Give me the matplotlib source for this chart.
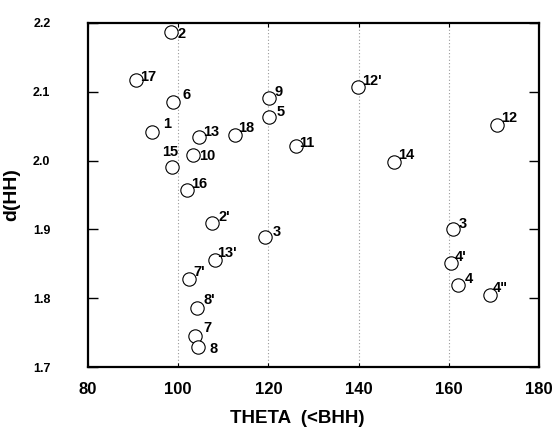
# d(HH) vs THETA scatter with numbered points

import matplotlib
matplotlib.use('Agg')
import matplotlib.pyplot as plt

plt.rcParams['font.family'] = ['Liberation Sans', 'DejaVu Sans']

# data
labels = ['2', '17', '6', '1', '13', '18', '9', '5', '11', '10', '15', '16',
          "12'", '14', '12', "2'", '3', "13'", "7'", "8'", '7', '8',
          '3', "4'", '4', '4"']
theta = [98.4, 90.6, 98.9, 94.2, 104.6, 112.6, 120.1, 120.1, 126.1, 103.3, 98.6, 102.0,
         139.9, 147.8, 170.7, 107.5, 119.2, 108.2, 102.4, 104.2, 103.7, 104.4,
         160.9, 160.5, 162.0, 169.1]
dhh = [2.187, 2.117, 2.085, 2.042, 2.034, 2.037, 2.091, 2.063, 2.021, 2.008, 1.991, 1.957,
       2.107, 1.998, 2.052, 1.909, 1.889, 1.855, 1.828, 1.786, 1.745, 1.729,
       1.901, 1.851, 1.819, 1.805]

# label offsets from the circle (pixels: right, down)
offsets = [(7, 2), (4, -3), (9, -7), (11, -8), (4, -5), (3, -7), (6, -6), (8, -5), (3, -3),
           (6, 1), (-10, -15), (4, -6), (4, -6), (4, -7), (4, -7), (6, -6), (8, -5), (2, -7),
           (4, -7), (6, -8), (8, -8), (11, 2), (6, -5), (4, -6), (7, -6), (3, -7)]

grid_x = [100, 120, 140, 160]

fig = plt.figure(figsize=(5.58, 4.33), dpi=100)
ax = fig.add_axes([0.1577, 0.1524, 0.8083, 0.7945])

for gx in grid_x:
    ax.axvline(gx, color='#9a9a9a', lw=0.8, ls=(0, (1, 2)), zorder=0)

ax.plot(theta, dhh, 'o', mfc='white', mec='black', ms=9.6, mew=0.8, ls='none')

for lab, x, y, (dx, dy) in zip(labels, theta, dhh, offsets):
    ax.annotate(lab, (x, y), xytext=(dx, -dy), textcoords='offset pixels',
                ha='left', va='center', fontsize=10.5, fontweight='bold')

ax.set_xlim(80, 180)
ax.set_ylim(1.7, 2.2)
ax.set_xticks([80, 100, 120, 140, 160, 180])
ax.set_yticks([1.7, 1.8, 1.9, 2.0, 2.1, 2.2])
ax.set_yticklabels(['1.7', '1.8', '1.9', '2.0', '2.1', '2.2'])

ax.tick_params(axis='y', direction='in', length=7, width=1, left=True, right=True,
               pad=27, labelsize=9)
ax.tick_params(axis='x', direction='in', length=3, width=0.8, top=True, bottom=True,
               pad=11, labelsize=12)
for t in ax.get_xticklabels() + ax.get_yticklabels():
    t.set_fontweight('bold')

for s in ax.spines.values():
    s.set_linewidth(1.6)

ax.set_xlabel('THETA  (<BHH)', fontsize=13.5, fontweight='bold')
ax.xaxis.set_label_coords(0.463, -0.125)
ax.set_ylabel('d(HH)', fontsize=14, fontweight='bold')
ax.yaxis.set_label_coords(-0.15, 0.5)

fig.savefig('out.png', dpi=100)
